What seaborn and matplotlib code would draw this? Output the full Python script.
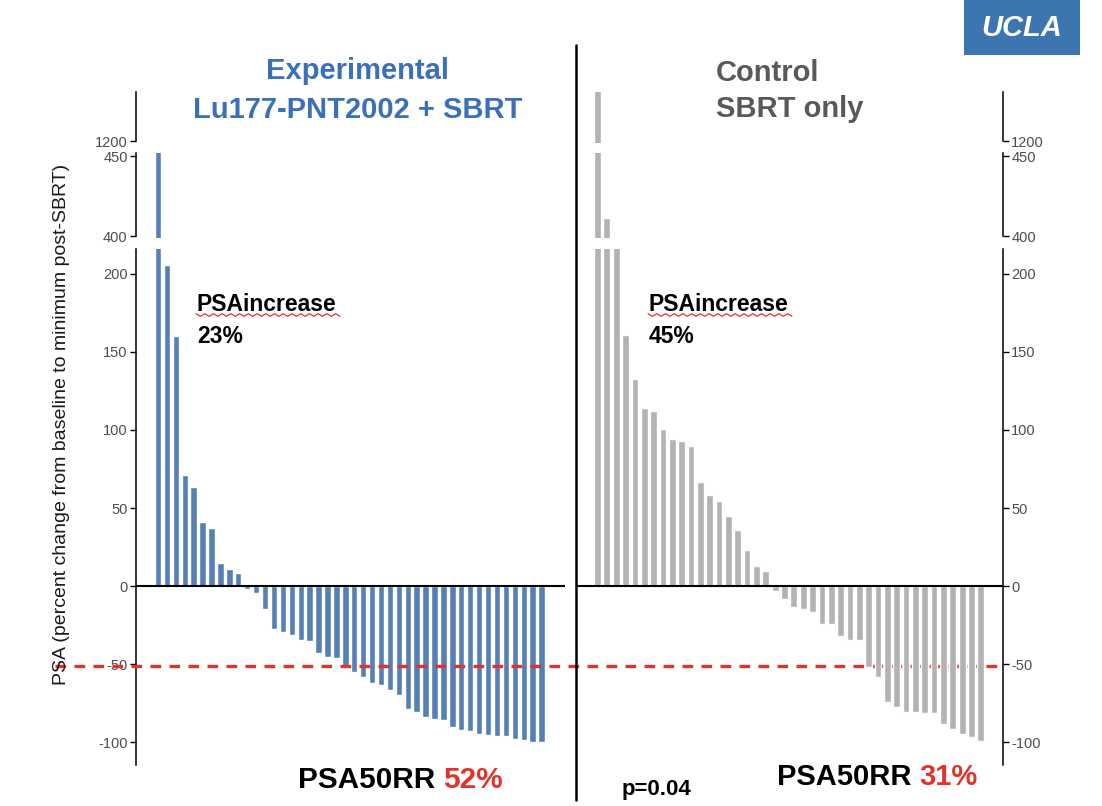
import numpy as np
import pandas as pd
import matplotlib
matplotlib.use("Agg")
import matplotlib.pyplot as plt
import matplotlib.transforms as mtransforms
from matplotlib.lines import Line2D
from matplotlib.patches import Rectangle
import seaborn as sns

# ---------------- data ----------------
exp_vals = [460, 206, 160, 71, 63.5, 41, 37, 14.5, 10.6, 8.5,
            -2.1, -4.7, -15, -27.8, -29.7, -31.6, -34.8, -35.5, -42.9, -45.5, -46.4,
            -52, -54.9, -58.1, -62.4, -63.5, -66.7, -69.9, -79, -80.6, -83.8, -85.5,
            -86, -90.6, -92.5, -93.2, -94.9, -95.5, -95.9, -96.1, -98.3, -98.9, -99.8, -100]
ctrl_vals = [1320, 411, 300, 160.9, 132.7, 113.9, 112.2, 100.4, 94.2, 93.2, 90,
             66.5, 58.3, 54.7, 44.9, 35.9, 23, 12.8, 9.8,
             -3.0, -8.1, -13.2, -14.7, -16.5, -24.1, -24.6, -32.3, -34.6, -34.8,
             -51.7, -58.5, -74.1, -77.4, -80.6, -80.6, -81.2, -81.6, -88.7, -91.9,
             -95.1, -96.8, -99.4]
exp_title = ["Experimental", "Lu177-PNT2002 + SBRT"]
ctrl_title = ["Control", "SBRT only"]
exp_increase = "23%"
ctrl_increase = "45%"
exp_rr = "52%"
ctrl_rr = "31%"
p_text = "p=0.04"
threshold = -51
ylabel = "PSA (percent change from baseline to minimum post-SBRT)"
seg_ticks = [[1200], [400, 450], [-100, -50, 0, 50, 100, 150, 200]]
seg_lims = [(1196, 1300), (398.75, 451.9), (-114.7, 216)]

BLUE_BAR = "#5680b4"
GRAY_BAR = "#b3b3b3"
BLUE_TXT = "#3a70b9"
GRAY_TXT = "#595959"
RED = "#e2322a"

sns.set_theme(style="white")
plt.rcParams["font.family"] = ["Liberation Sans", "DejaVu Sans"]
plt.rcParams["axes.unicode_minus"] = False
BOLDF = ["Liberation Sans", "DejaVu Sans"]

W, H = 1102, 806
fig = plt.figure(figsize=(W / 100, H / 100), dpi=100)


def fx(px):
    return px / W


def fy(py):
    return 1 - py / H


seg_px = [(92, 143), (153, 238), (249, 765)]
panels = {
    "exp": dict(vals=exp_vals, x0=136, x1=565, color=BLUE_BAR, first=158.0, step=8.92, side="left"),
    "ctrl": dict(vals=ctrl_vals, x0=577, x1=1003, color=GRAY_BAR, first=597.5, step=9.35, side="right"),
}

axes = {}
for key, p in panels.items():
    df = pd.DataFrame({"pt": [str(i) for i in range(len(p["vals"]))], "val": p["vals"]})
    for si, ((ya, yb), lim, ticks) in enumerate(zip(seg_px, seg_lims, seg_ticks)):
        ax = fig.add_axes([fx(p["x0"]), fy(yb), fx(p["x1"]) - fx(p["x0"]), (yb - ya) / H])
        ax.patch.set_alpha(0)
        sns.barplot(data=df, x="pt", y="val", color=p["color"], saturation=1,
                    width=0.72, ax=ax, errorbar=None)
        ax.set_ylim(*lim)
        xl = (p["x0"] - p["first"]) / p["step"]
        xr = (p["x1"] - p["first"]) / p["step"]
        ax.set_xlim(xl, xr)
        ax.set_xlabel("")
        ax.set_ylabel("")
        ax.set_xticks([])
        ax.set_yticks(ticks)
        for s in ["top", "bottom", "left", "right"]:
            ax.spines[s].set_visible(False)
        sp = ax.spines[p["side"]]
        sp.set_visible(True)
        sp.set_color("black")
        sp.set_linewidth(1.1)
        if si == 0:
            sp.set_bounds(1200, lim[1])
        elif si == 1:
            sp.set_bounds(400, lim[1])
        if p["side"] == "right":
            ax.yaxis.tick_right()
        ax.tick_params(axis="y", which="both", length=4, width=1.0, color="black",
                       labelcolor="#4d4d4d", labelsize=10.5, pad=2,
                       left=(p["side"] == "left"), right=(p["side"] == "right"),
                       labelleft=(p["side"] == "left"), labelright=(p["side"] == "right"))
        if si == 2:
            ax.axhline(0, color="black", lw=1.5)
        axes[(key, si)] = ax

# dashed threshold line spanning both panels
axb = axes[("exp", 2)]
trans = mtransforms.blended_transform_factory(fig.transFigure, axb.transData)
axb.plot([fx(55), fx(1000)], [threshold, threshold], transform=trans, clip_on=False,
         color=RED, lw=2.4, dashes=(3.2, 2.5), zorder=5)

# vertical divider
fig.add_artist(Line2D([fx(576), fx(576)], [fy(45), fy(800)], color="black", lw=1.8))

# y label
fig.text(fx(62), fy(424), ylabel, rotation=90, ha="center", va="center",
         fontsize=14, color="#1a1a1a")

# titles
TS = 21
fig.text(fx(358), fy(79), exp_title[0], ha="center", va="baseline", fontsize=TS,
         fontweight="bold", color=BLUE_TXT, family=BOLDF)
fig.text(fx(358), fy(118), exp_title[1], ha="center", va="baseline", fontsize=TS,
         fontweight="bold", color=BLUE_TXT, family=BOLDF)
fig.text(fx(716), fy(81), ctrl_title[0], ha="left", va="baseline", fontsize=TS,
         fontweight="bold", color=GRAY_TXT, family=BOLDF)
fig.text(fx(716), fy(117), ctrl_title[1], ha="left", va="baseline", fontsize=TS,
         fontweight="bold", color=GRAY_TXT, family=BOLDF)

# PSA increase annotations with squiggle underline
for x0, pct in [(197, exp_increase), (649, ctrl_increase)]:
    fig.text(fx(x0), fy(311), "PSAincrease", ha="left", va="baseline", fontsize=16.5,
             fontweight="bold", color="black", family=BOLDF)
    fig.text(fx(x0), fy(343), pct, ha="left", va="baseline", fontsize=16.5,
             fontweight="bold", color="black", family=BOLDF)
    n = 34
    xs = np.linspace(x0 - 1, x0 + 143, n)
    ys = 315 + np.where(np.arange(n) % 2 == 0, -1.3, 1.3)
    fig.add_artist(Line2D([fx(v) for v in xs], [fy(v) for v in ys], color=RED, lw=0.9))

# PSA50RR labels (two colours)
fig.canvas.draw()
renderer = fig.canvas.get_renderer()
for x0, y0, pct, fs in [(298, 788, exp_rr, 21.4), (777, 785, ctrl_rr, 21)]:
    t = fig.text(fx(x0), fy(y0), "PSA50RR ", ha="left", va="baseline", fontsize=fs,
                 fontweight="bold", color="black", family=BOLDF)
    bb = t.get_window_extent(renderer=renderer)
    fig.text(bb.x1 / W, fy(y0), pct, ha="left", va="baseline", fontsize=fs,
             fontweight="bold", color=RED, family=BOLDF)

fig.text(fx(622), fy(795), p_text, ha="left", va="baseline", fontsize=16,
         fontweight="bold", color="black", family=BOLDF)

# UCLA logo box
fig.add_artist(Rectangle((fx(964), fy(55)), fx(1080) - fx(964), 55 / H,
                         transform=fig.transFigure, color="#3c75b0", lw=0))
fig.text(fx(1022), fy(28), "UCLA", ha="center", va="center", fontsize=21,
         fontweight="bold", fontstyle="italic", color="white")

fig.savefig("out.png", dpi=100)
